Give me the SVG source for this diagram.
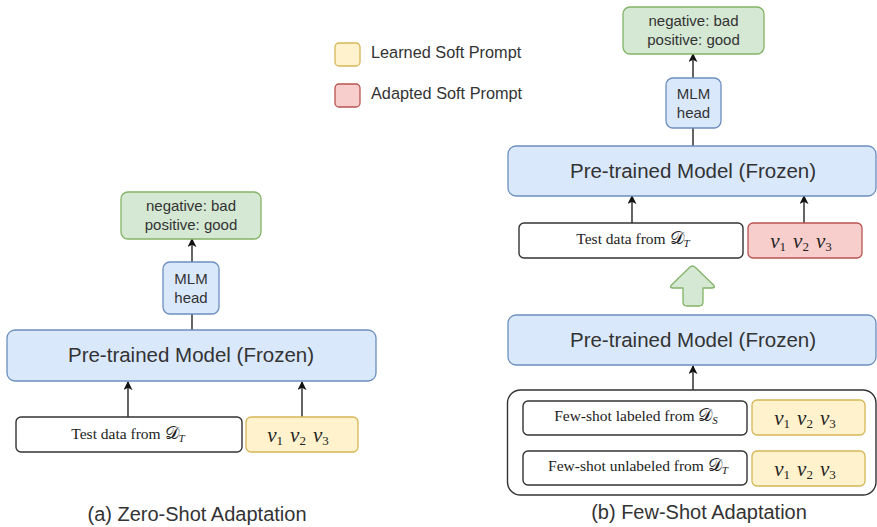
<svg xmlns="http://www.w3.org/2000/svg" width="877" height="527" viewBox="0 0 877 527">
  <defs>
    <marker id="arrow" viewBox="0 0 10 10" refX="9" refY="5" markerWidth="9" markerHeight="9" markerUnits="userSpaceOnUse" orient="auto">
      <path d="M0,0 L10,5 L0,10 L2.5,5 Z" fill="#111"/>
    </marker>
    <style>
      .sans { font-family: "Liberation Sans", Arial, Helvetica, sans-serif; fill: #333; }
      .serif { font-family: "Liberation Serif", "DejaVu Serif", serif; fill: #222; }
      .model { fill: #dae8fc; stroke: #6c8ebf; stroke-width: 1.3; }
      .out { fill: #d5e8d4; stroke: #82b366; stroke-width: 1.3; }
      .learned { fill: #fff2cc; stroke: #d6b656; stroke-width: 1.3; }
      .adapted { fill: #f8cecc; stroke: #b85450; stroke-width: 1.3; }
      .data { fill: #ffffff; stroke: #333; stroke-width: 1.4; }
      .frame { fill: none; stroke: #333; stroke-width: 1.4; }
      .edge { stroke: #111; stroke-width: 1.3; fill: none; }
      .edge-a { stroke: #111; stroke-width: 1.3; fill: none; marker-end: url(#arrow); }
      .big { font-size: 20.5px; }
      .mid { font-size: 15px; }
      .cap { font-size: 20px; }
      .leg { font-size: 16.3px; }
      .vs { font-size: 21px; font-style: italic; }
      .sub { font-size: 13px; font-style: normal; }
      .dt { font-size: 15.5px; }
      .cal { font-size: 18px; }
      .dsub { font-size: 11px; font-style: italic; }
    </style>
  </defs>

  <!-- legend -->
  <g id="legend">
    <rect x="335" y="43" width="25" height="23" rx="4" class="learned"/>
    <text x="371" y="58" class="sans leg">Learned Soft Prompt</text>
    <rect x="335" y="84" width="25" height="23" rx="4" class="adapted"/>
    <text x="371" y="99" class="sans leg">Adapted Soft Prompt</text>
  </g>

  <!-- connectors -->
  <g id="connectors">
    <!-- zero-shot -->
    <line x1="192" y1="262" x2="192" y2="239" class="edge-a"/>
    <line x1="192" y1="330" x2="192" y2="314" class="edge"/>
    <line x1="128" y1="417" x2="128" y2="382" class="edge-a"/>
    <line x1="302" y1="417" x2="302" y2="382" class="edge-a"/>
    <!-- few-shot -->
    <line x1="693" y1="78" x2="693" y2="54" class="edge-a"/>
    <line x1="693" y1="146" x2="693" y2="128" class="edge"/>
    <line x1="632" y1="223" x2="632" y2="196" class="edge-a"/>
    <line x1="804" y1="223" x2="804" y2="196" class="edge-a"/>
    <line x1="693" y1="390" x2="693" y2="366" class="edge-a"/>
  </g>

  <!-- (a) zero-shot adaptation -->
  <g id="a-output">
    <rect x="121" y="192" width="140" height="47" rx="7" class="out"/>
    <text x="191" y="211" text-anchor="middle" class="sans mid">negative: bad</text>
    <text x="191" y="230" text-anchor="middle" class="sans mid">positive: good</text>
  </g>
  <g id="a-mlm">
    <rect x="163" y="262" width="56" height="52" rx="7" class="model"/>
    <text x="191" y="284" text-anchor="middle" class="sans mid">MLM</text>
    <text x="191" y="303" text-anchor="middle" class="sans mid">head</text>
  </g>
  <g id="a-model">
    <rect x="7" y="330" width="369" height="51" rx="8" class="model"/>
    <text x="191" y="362" text-anchor="middle" class="sans big">Pre-trained Model (Frozen)</text>
  </g>
  <g id="a-test">
    <rect x="16" y="417" width="226" height="35" rx="5" class="data"/>
    <text x="128" y="439" text-anchor="middle" class="serif dt">Test data from <tspan class="cal">𝒟</tspan><tspan dy="3" class="dsub">T</tspan></text>
  </g>
  <g id="a-prompt">
    <rect x="246" y="417" width="112" height="35" rx="5" class="learned"/>
    <text x="298" y="442" text-anchor="middle" class="serif vs">v<tspan dy="3" class="sub">1</tspan><tspan dy="-3" dx="7">v</tspan><tspan dy="3" class="sub">2</tspan><tspan dy="-3" dx="7">v</tspan><tspan dy="3" class="sub">3</tspan></text>
  </g>
  <text x="197" y="521" text-anchor="middle" class="sans cap">(a) Zero-Shot Adaptation</text>

  <!-- (b) few-shot adaptation -->
  <g id="b-output">
    <rect x="623" y="7" width="141" height="47" rx="7" class="out"/>
    <text x="693.5" y="26" text-anchor="middle" class="sans mid">negative: bad</text>
    <text x="693.5" y="45" text-anchor="middle" class="sans mid">positive: good</text>
  </g>
  <g id="b-mlm">
    <rect x="666" y="78" width="55" height="50" rx="7" class="model"/>
    <text x="693.5" y="99" text-anchor="middle" class="sans mid">MLM</text>
    <text x="693.5" y="118" text-anchor="middle" class="sans mid">head</text>
  </g>
  <g id="b-model-top">
    <rect x="508" y="146" width="368" height="50" rx="8" class="model"/>
    <text x="693" y="178" text-anchor="middle" class="sans big">Pre-trained Model (Frozen)</text>
  </g>
  <g id="b-test">
    <rect x="519" y="223" width="224" height="35" rx="5" class="data"/>
    <text x="633" y="244" text-anchor="middle" class="serif dt">Test data from <tspan class="cal">𝒟</tspan><tspan dy="3" class="dsub">T</tspan></text>
  </g>
  <g id="b-prompt-adapted">
    <rect x="748" y="223" width="114" height="35" rx="5" class="adapted"/>
    <text x="801" y="248" text-anchor="middle" class="serif vs">v<tspan dy="3" class="sub">1</tspan><tspan dy="-3" dx="7">v</tspan><tspan dy="3" class="sub">2</tspan><tspan dy="-3" dx="7">v</tspan><tspan dy="3" class="sub">3</tspan></text>
  </g>
  <g id="b-transfer">
    <path d="M689.5,267.5 Q692.5,264.5 695.5,267.5 L713,284.5 Q716.5,288 711.5,288 L703,288 L703,302 Q703,306 699,306 L687,306 Q683,306 683,302 L683,288 L673.5,288 Q668.5,288 672,284.5 Z" fill="#d5e8d4" stroke="#82b366" stroke-width="1.3" stroke-linejoin="round"/>
  </g>
  <g id="b-model-bottom">
    <rect x="508" y="315" width="368" height="50" rx="8" class="model"/>
    <text x="693" y="347" text-anchor="middle" class="sans big">Pre-trained Model (Frozen)</text>
  </g>
  <g id="b-fewshot">
    <rect x="507.5" y="390" width="368.5" height="105" rx="13" class="frame"/>
    <g id="b-labeled">
      <rect x="523" y="401" width="224" height="34" rx="5" class="data"/>
      <text x="636" y="421" text-anchor="middle" class="serif dt">Few-shot labeled from <tspan class="cal">𝒟</tspan><tspan dy="3" class="dsub">S</tspan></text>
    </g>
    <g id="b-labeled-prompt">
      <rect x="752" y="400" width="113" height="35" rx="5" class="learned"/>
      <text x="805" y="425" text-anchor="middle" class="serif vs">v<tspan dy="3" class="sub">1</tspan><tspan dy="-3" dx="7">v</tspan><tspan dy="3" class="sub">2</tspan><tspan dy="-3" dx="7">v</tspan><tspan dy="3" class="sub">3</tspan></text>
    </g>
    <g id="b-unlabeled">
      <rect x="523" y="451" width="224" height="34" rx="5" class="data"/>
      <text x="638" y="471" text-anchor="middle" class="serif dt">Few-shot unlabeled from <tspan class="cal">𝒟</tspan><tspan dy="3" class="dsub">T</tspan></text>
    </g>
    <g id="b-unlabeled-prompt">
      <rect x="752" y="451" width="113" height="35" rx="5" class="learned"/>
      <text x="805" y="476" text-anchor="middle" class="serif vs">v<tspan dy="3" class="sub">1</tspan><tspan dy="-3" dx="7">v</tspan><tspan dy="3" class="sub">2</tspan><tspan dy="-3" dx="7">v</tspan><tspan dy="3" class="sub">3</tspan></text>
    </g>
  </g>
  <text x="699" y="519" text-anchor="middle" class="sans cap">(b) Few-Shot Adaptation</text>
</svg>
